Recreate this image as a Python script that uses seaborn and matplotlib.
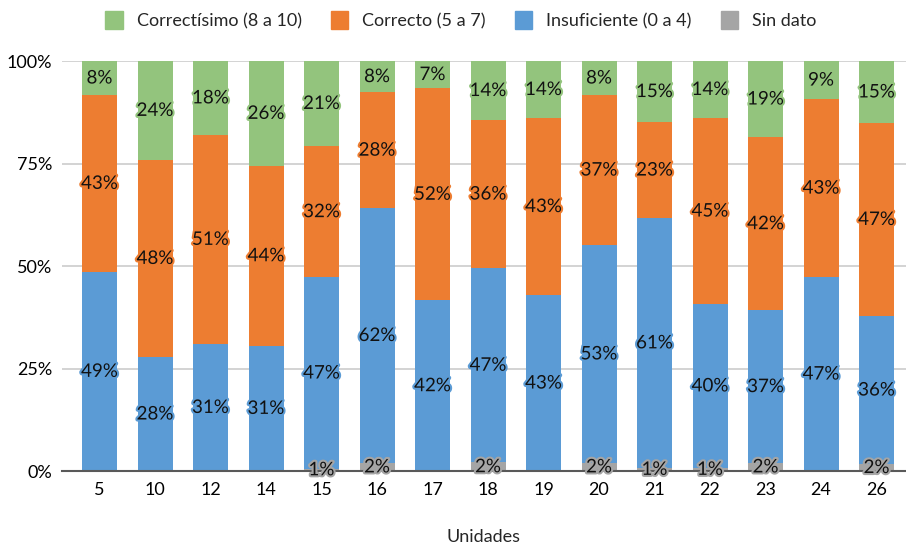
import numpy as np
import pandas as pd
import matplotlib
matplotlib.use("Agg")
import matplotlib.pyplot as plt
import matplotlib.patheffects as pe
from matplotlib.patches import Patch
import seaborn as sns

unidades = ["5", "10", "12", "14", "15", "16", "17", "18", "19", "20", "21", "22", "23", "24", "26"]
sin_dato = [0, 0, 0, 0, 0.6, 2.0, 0, 2.1, 0, 2.0, 0.8, 0.8, 2.0, 0, 1.7]
insuficiente = [48.6, 27.8, 31.0, 30.6, 46.6, 62.1, 41.6, 47.4, 42.9, 53.1, 60.9, 39.9, 37.3, 47.3, 36.1]
correcto = [43.1, 48.1, 51.0, 44.0, 32.1, 28.3, 51.8, 36.1, 43.2, 36.6, 23.4, 45.4, 42.4, 43.4, 47.1]
correctisimo = [8.3, 24.1, 18.0, 25.6, 20.7, 7.6, 6.6, 14.4, 13.9, 8.3, 14.9, 13.9, 18.6, 9.3, 15.1]

series_names = ["Sin dato", "Insuficiente (0 a 4)", "Correcto (5 a 7)", "Correctísimo (8 a 10)"]
colors = ["#A5A5A5", "#5B9BD5", "#ED7D31", "#93C47D"]

sns.set_theme(style="white")
plt.rcParams["font.family"] = ["Lato", "DejaVu Sans"]

data = np.array([sin_dato, insuficiente, correcto, correctisimo], dtype=float)
totals = data.sum(axis=0)
norm = data / totals * 100
cum = np.cumsum(norm, axis=0)

W, H = 906, 546
fig = plt.figure(figsize=(W / 100, H / 100), dpi=100)
ax = fig.add_axes([62 / W, 1 - 471 / H, (906 - 62) / W, (471 - 61) / H])

for i in range(3, -1, -1):
    df = pd.DataFrame({"Unidades": unidades, "v": cum[i]})
    sns.barplot(data=df, x="Unidades", y="v", color=colors[i], saturation=1,
                width=0.63, ax=ax, order=unidades, zorder=2, linewidth=0)

ax.set_xlim(-0.676, 14.53)
ax.set_ylim(0, 100)
ax.set_yticks([0, 25, 50, 75, 100])
ax.set_yticklabels(["0%", "25%", "50%", "75%", "100%"])
ax.yaxis.grid(True, color="#D0D0D0", linewidth=1.3, zorder=0)
ax.set_axisbelow(True)
for s in ["top", "right", "left"]:
    ax.spines[s].set_visible(False)
ax.spines["bottom"].set_color("#595959")
ax.spines["bottom"].set_linewidth(1.5)
ax.spines["bottom"].set_zorder(3)
ax.tick_params(axis="both", length=0, labelsize=13, colors="#000000", pad=7)
ax.tick_params(axis="x", pad=8)
ax.set_ylabel("")
ax.set_xlabel("Unidades", fontsize=13, labelpad=22)

for i in range(4):
    for j in range(len(unidades)):
        v = data[i, j]
        if v <= 0:
            continue
        mid = cum[i, j] - norm[i, j] / 2
        ax.text(j, mid, f"{v:.0f}%", ha="center", va="center", fontsize=13.5,
                color="#111111", zorder=5,
                path_effects=[pe.withStroke(linewidth=3, foreground=colors[i])])

handles = [Patch(facecolor=colors[i], edgecolor=colors[i]) for i in [3, 2, 1, 0]]
labels = [series_names[i] for i in [3, 2, 1, 0]]
fig.legend(handles, labels, loc="center", bbox_to_anchor=(461 / W, 1 - 20 / H), ncol=4,
           frameon=False, fontsize=13, handlelength=0.95, handleheight=1.2,
           columnspacing=1.6, handletextpad=0.8)

fig.savefig("out.png", dpi=100)
